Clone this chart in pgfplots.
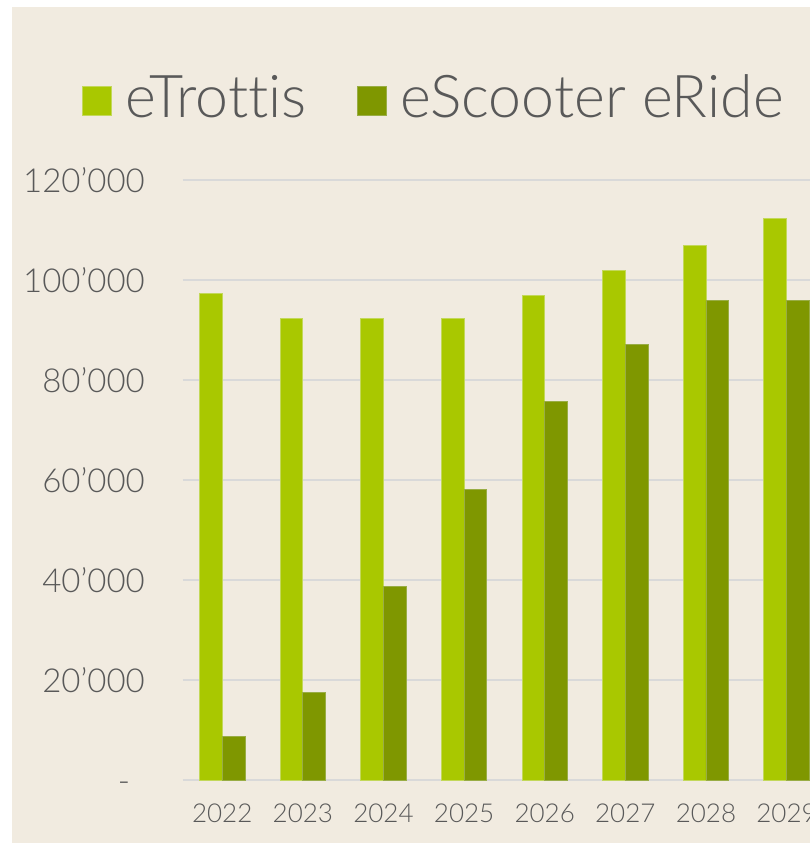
\documentclass[border=0pt]{standalone}
\usepackage{pgfplots}
\pgfplotsset{compat=1.18}
\usepackage{fontspec}
\setmainfont{Lato Light}[Ligatures=NoCommon]
\definecolor{bg}{HTML}{F1EBE0}
\definecolor{trott}{HTML}{A9C800}
\definecolor{trottedge}{HTML}{C3D85A}
\definecolor{eride}{HTML}{7F9700}
\definecolor{erideedge}{HTML}{99AD45}
\definecolor{gridgray}{HTML}{D9D9D9}
\definecolor{txt}{HTML}{595959}
\begin{document}
\begin{tikzpicture}[x=1pt,y=1pt]
\useasboundingbox (0,0) rectangle (810,843);
\fill[white] (0,0) rectangle (810,843);
\fill[bg] (12,0) rectangle (810,836);
\begin{axis}[
  at={(182.5pt,62.7pt)}, anchor=south west,
  scale only axis, width=627.5pt, height=600.3pt,
  xmin=-0.493, xmax=7.291, ymin=0, ymax=120000,
  scaled y ticks=false,
  ybar=0pt, bar width=22.7pt,
  axis line style={draw=none},
  major tick length=0pt,
  ymajorgrids, grid style={draw=gridgray, line width=1.6pt},
  xtick={0,1,2,3,4,5,6,7},
  xticklabels={2022,2023,2024,2025,2026,2027,2028,2029},
  ytick={0,20000,40000,60000,80000,100000,120000},
  yticklabels={\makebox[27pt][l]{\raisebox{-12pt}[0pt][0pt]{-}},20’000,40’000,60’000,80’000,100’000,120’000},
  yticklabel style={anchor=east, inner sep=0pt, xshift=-37.5pt, text=txt, font=\fontsize{33}{38}\selectfont},
  xticklabel style={anchor=north, inner sep=0pt, yshift=-23pt, text=txt, font=\fontsize{26}{30}\selectfont},
  legend columns=2,
  legend style={at={(0,1)}, anchor=west, xshift=-100.5pt, yshift=83pt,
    draw=none, fill=none, inner sep=0pt,
    font=\fontsize{59}{64}\selectfont, text=txt,
    nodes={inner sep=0pt},
    /tikz/every odd column/.append style={column sep=14pt},
    /tikz/every even column/.append style={column sep=50pt}},
  legend image code/.code={\fill[#1] (0pt,-18pt) rectangle (29pt,11pt);},
]
\addplot[fill=trott, draw=trottedge, line width=0.8pt] coordinates {
 (0,97400) (1,92400) (2,92400) (3,92400) (4,97000) (5,101900) (6,106900) (7,112300)};
\addlegendentry{eTrottis}
\addplot[fill=eride, draw=erideedge, line width=0.8pt] coordinates {
 (0,8700) (1,17600) (2,38800) (3,58200) (4,75800) (5,87200) (6,95900) (7,95900)};
\addlegendentry{eScooter eRide}
\end{axis}
\end{tikzpicture}
\end{document}
